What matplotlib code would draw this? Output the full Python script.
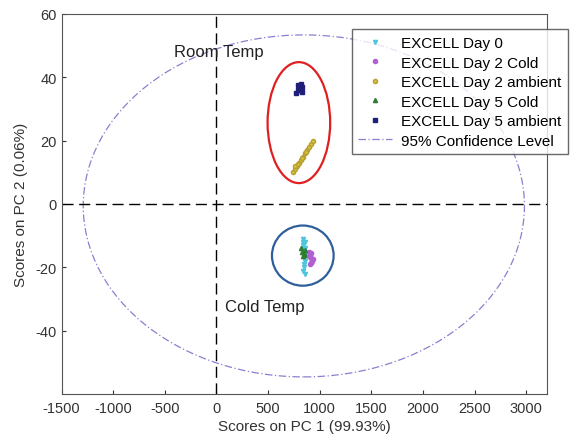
import numpy as np
import matplotlib.pyplot as plt
from matplotlib.patches import Ellipse

plt.rcParams['font.family'] = ['Liberation Sans', 'DejaVu Sans']
plt.rcParams['axes.unicode_minus'] = False

# scores (PC1, PC2)
day0_x = [835, 840, 845, 850, 848, 842, 855, 860, 838, 852, 858, 846, 837, 853]
day0_y = [-12, -13, -15, -17, -19, -21, -22, -14, -11, -16, -18, -20, -14, -12]
day2c_x = [895, 905, 915, 925, 910, 900, 930, 920, 912]
day2c_y = [-15, -16, -17, -18, -19, -16.5, -17.5, -15.5, -18.5]
day2a_x = [740, 760, 780, 800, 820, 840, 860, 880, 900, 920, 935, 790, 830, 870, 760]
day2a_y = [10, 11, 12, 13, 14, 15, 16, 17, 18, 19, 20, 12.5, 14.5, 16.5, 12]
day5c_x = [815, 830, 845, 860, 835, 850]
day5c_y = [-14, -15, -16, -14.5, -16.5, -15.5]
day5a_x = [770, 785, 800, 815, 830, 790, 810, 825]
day5a_y = [35, 36, 37, 38, 35.5, 37.5, 36, 37]

labels = ['EXCELL Day 0', 'EXCELL Day 2 Cold', 'EXCELL Day 2 ambient',
          'EXCELL Day 5 Cold', 'EXCELL Day 5 ambient', '95% Confidence Level']

fig = plt.figure(figsize=(5.72, 4.39), dpi=100)
ax = fig.add_axes([61.5 / 572, 44 / 439, 485.5 / 572, 380 / 439])

ax.plot(day0_x, day0_y, 'v', color='#4fc6dc', ms=3, mec='#4fc6dc', label=labels[0])
ax.plot(day2c_x, day2c_y, 'o', color='#b060d0', ms=3, mec='#b060d0', label=labels[1])
ax.plot(day2a_x, day2a_y, 'o', color='#d4c040', ms=3, mec='#b8a030', label=labels[2])
ax.plot(day5c_x, day5c_y, '^', color='#2e7d32', ms=3, mec='#2e7d32', label=labels[3])
ax.plot(day5a_x, day5a_y, 's', color='#1f1f7a', ms=3, mec='#1f1f7a', label=labels[4])

# 95% confidence ellipse
conf = Ellipse((846, -0.6), 4271, 108, fill=False, ec='#8a7fd0',
               ls=(0, (6, 2, 1, 2)), lw=0.9)
ax.add_patch(conf)
ax.plot([], [], ls=(0, (6, 2, 1, 2)), color='#8a7fd0', lw=0.9, label=labels[5])

ax.axhline(0, color='black', ls=(0, (8, 4)), lw=1)
ax.axvline(0, color='black', ls=(0, (8, 4)), lw=1)

# annotation shapes
ax.add_patch(Ellipse((798, 25.7), 606, 38.2, fill=False, ec='#e02020', lw=1.6))
ax.add_patch(Ellipse((836, -16.3), 597, 19, fill=False, ec='#2f5f9a', lw=1.6))
ax.text(-415, 48.3, 'Room Temp', fontsize=12, va='center', color='#222222')
ax.text(85, -32.5, 'Cold Temp', fontsize=12, va='center', color='#222222')

ax.set_xlim(-1500, 3200)
ax.set_ylim(-60, 60)
ax.set_xticks(np.arange(-1500, 3001, 500))
ax.set_yticks(np.arange(-40, 61, 20))
ax.tick_params(direction='in', length=3, labelsize=10.5, colors='#333333')
ax.tick_params(axis='x', pad=5)
for s in ax.spines.values():
    s.set_color('#555555')
ax.set_xlabel('Scores on PC 1 (99.93%)', fontsize=11, labelpad=3, color='#333333')
ax.set_ylabel('Scores on PC 2 (0.06%)', fontsize=11, labelpad=5, color='#333333')

leg = ax.legend(loc='upper right', bbox_to_anchor=(1.044, 0.96), fontsize=11,
                frameon=True, fancybox=False, edgecolor='#444444',
                handlelength=2.2, borderpad=0.45, labelspacing=0.36,
                handletextpad=0.6, borderaxespad=0)
leg.get_frame().set_linewidth(1)

fig.savefig('out.png', dpi=100)
